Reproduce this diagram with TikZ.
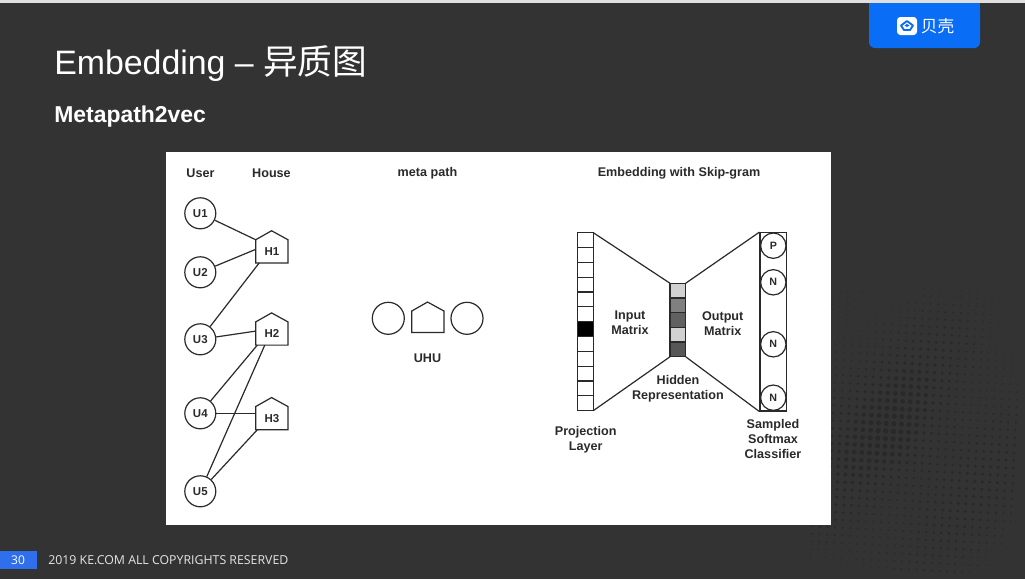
\documentclass[tikz,border=0pt]{standalone}
\usepackage{fontspec}
\setmainfont{Liberation Sans}
\newfontfamily\cjk{Noto Sans CJK SC}
\newfontfamily\foot{Open Sans}
\definecolor{bgc}{HTML}{333333}
\definecolor{dotc}{HTML}{292929}
\definecolor{ink}{HTML}{2A2A2A}
\definecolor{logob}{HTML}{0A6DF5}
\definecolor{pageb}{HTML}{2F6FEB}
\tikzset{
  lbl/.style={font=\bfseries\fontsize{9.45}{11.25}\selectfont,text=ink,align=center,inner sep=0pt},
  ucircle/.style={circle,draw=ink,line width=.9pt,minimum size=23.25pt,inner sep=0pt,fill=white,font=\bfseries\fontsize{8.6}{10}\selectfont,text=ink},
  housebody/.style={rectangle,minimum width=23.8pt,minimum height=17pt,inner sep=0pt,font=\bfseries\fontsize{8.6}{10}\selectfont,text=ink},
  outl/.style={draw=ink,line width=.9pt,line join=miter},
  conn/.style={draw=ink,line width=.9pt},
  cell/.style={draw=ink,line width=.9pt,minimum width=11.7pt,inner sep=0pt,outer sep=0pt},
  pcell/.style={cell,minimum height=11.12pt},
  hcell/.style={cell,minimum height=11pt},
  ncircle/.style={circle,draw=ink,line width=.9pt,minimum size=19pt,inner sep=0pt,font=\bfseries\fontsize{8}{10}\selectfont,text=ink},
}
\newcommand{\houseroof}[1]{\draw[outl] (#1.north west) -- ++(15.85,-9) -- (#1.north east) -- (#1.south east) -- (#1.south west) -- cycle;}
\begin{document}
\begin{tikzpicture}[x=0.75pt,y=-0.75pt]
\useasboundingbox (0,0) rectangle (1025,579);
\fill[bgc] (0,0) rectangle (1025,579);
\fill[black!12] (0,0) rectangle (1025,2.5);
% halftone
\foreach \i in {0,...,26}{
  \foreach \j in {0,...,38}{
    \pgfmathsetmacro{\qx}{825+\i*7.6-\j*0.4}
    \pgfmathsetmacro{\qy}{283+\j*7.6+\i*0.4}
    \pgfmathsetmacro{\dd}{veclen(\qx-905,\qy-440)}
    \pgfmathsetmacro{\rr}{max(0,3.1*(1-\dd/205))*(0.75+0.25*sin(\qx*2.2+\qy*1.6))}
    \ifdim\rr pt>0.45pt
      \pgfmathtruncatemacro{\keep}{(\qy<575 && \qx<1022) ? 1 : 0}
      \ifnum\keep=1
        \fill[dotc] (\qx,\qy) circle[radius=\rr];
      \fi
    \fi
  }
}
% logo
\fill[logob,rounded corners=4.5pt] (869,3) rectangle (980,48);
\fill[logob] (869,3) rectangle (980,12);
\fill[white,rounded corners=2.5pt] (897,17) rectangle (917,35);
\draw[logob,line width=1.4pt,line join=round] (901,25.5) -- (907,21) -- (913,25.5) -- (910,30) -- (904,30) -- cycle;
\fill[logob] (904.5,25.5) -- (907,24) -- (909.5,25.5) -- (907,27) -- cycle;
\node[text=white,font=\cjk\fontsize{12.5}{14}\selectfont,inner sep=0pt] (logotext) at (937.5,26) {贝壳};
% title
\node[anchor=base west,text=white,inner sep=0pt,font=\fontsize{25.4}{30}\selectfont] (title) at (54,74) {Embedding – {\cjk\fontsize{26}{30}\selectfont 异质图}};
\node[anchor=base west,text=white,inner sep=0pt,font=\bfseries\fontsize{17.2}{20}\selectfont] (sub) at (54,122) {Metapath2vec};
% footer
\fill[pageb] (0,551) rectangle (37,569);
\node[text=white,font=\foot\fontsize{9}{10}\selectfont,inner sep=0pt] (pg) at (18,560) {30};
\node[anchor=west,text=black!10,font=\foot\fontsize{9.25}{10}\selectfont,inner sep=0pt] (copy) at (48,560) {2019 KE.COM ALL COPYRIGHTS RESERVED};
% image
\fill[white] (166,152) rectangle (831,525);
\node[lbl] (hu) at (200.5,173.5) {User};
\node[lbl] (hh) at (271.5,173.5) {House};
\node[lbl] (hm) at (427.5,173.5) {meta path};
\node[lbl] (he) at (679,173.5) {Embedding with Skip-gram};
\node[ucircle] (U1) at (200.3,213.3) {U1};
\node[ucircle] (U2) at (200.3,272.3) {U2};
\node[ucircle] (U3) at (200.3,339.3) {U3};
\node[ucircle] (U4) at (200.3,413.3) {U4};
\node[ucircle] (U5) at (200.3,491.3) {U5};
\node[housebody] (H1) at (271.85,251.35) {H1};
\node[housebody] (H2) at (271.85,333.5) {H2};
\node[housebody] (H3) at (271.85,418.15) {H3};
\houseroof{H1}\houseroof{H2}\houseroof{H3}
\draw[conn] (U1) -- (H1.north west);
\draw[conn] (U2) -- ([yshift=1.5pt]H1.west);
\draw[conn] (U3) -- ([xshift=2.6pt]H1.south west);
\draw[conn] (U3) -- ([yshift=1.8pt]H2.west);
\draw[conn] (U4) -- ([xshift=1.2pt]H2.south west);
\draw[conn] (U5) -- ([xshift=6.8pt]H2.south west);
\draw[conn] (U4.east) -- (U4.east -| H3.west);
\draw[conn] (U5) -- ([xshift=1.2pt]H3.south west);
% meta path
\node[circle,draw=ink,line width=.9pt,minimum size=24pt,inner sep=0pt] (m1) at (388.3,318.3) {};
\node[rectangle,minimum width=23.8pt,minimum height=15.75pt,inner sep=0pt] (m2) at (427.85,321.8) {};
\houseroof{m2}
\node[circle,draw=ink,line width=.9pt,minimum size=24pt,inner sep=0pt] (m3) at (467,318.3) {};
\node[lbl] (uhu) at (427.5,358.5) {UHU};
% projection layer
\foreach \k [count=\n from 0] in {1,...,12}{
  \pgfmathsetmacro{\cy}{232.7+7.415+\n*14.83}
  \ifnum\n=6
    \node[pcell,fill=black] (p\k) at (585.5,\cy) {};
  \else
    \node[pcell] (p\k) at (585.5,\cy) {};
  \fi
}
% hidden
\node[hcell,fill=black!18] (h1) at (677.85,290.6) {};
\node[hcell,fill=black!50] (h2) at (677.85,305.3) {};
\node[hcell,fill=black!62] (h3) at (677.85,320) {};
\node[hcell,fill=black!18] (h4) at (677.85,334.7) {};
\node[hcell,fill=black!66] (h5) at (677.85,349.4) {};
% output
\node[draw=ink,line width=.9pt,minimum width=20pt,minimum height=133.7pt,inner sep=0pt] (out) at (773.35,321.85) {};
\node[ncircle] (c1) at (773.3,245.7) {P};
\node[ncircle] (c2) at (773.3,282.3) {N};
\node[ncircle] (c3) at (773.3,344.3) {N};
\node[ncircle] (c4) at (773.3,397.7) {N};
\draw[conn] (p1.north east) -- (h1.north west);
\draw[conn] (p12.south east) -- (h5.south west);
\draw[conn] (h1.north east) -- (out.north west);
\draw[conn] (h5.south east) -- (out.south west);
\node[lbl] (im) at (630,322.5) {Input\\Matrix};
\node[lbl] (om) at (722.7,324) {Output\\Matrix};
\node[lbl] (hr) at (678,389) {Hidden\\Representation};
\node[lbl] (pl) at (585.7,439.5) {Projection\\Layer};
\node[lbl] (ss) at (773,439) {Sampled\\Softmax\\Classifier};
\end{tikzpicture}
\end{document}
